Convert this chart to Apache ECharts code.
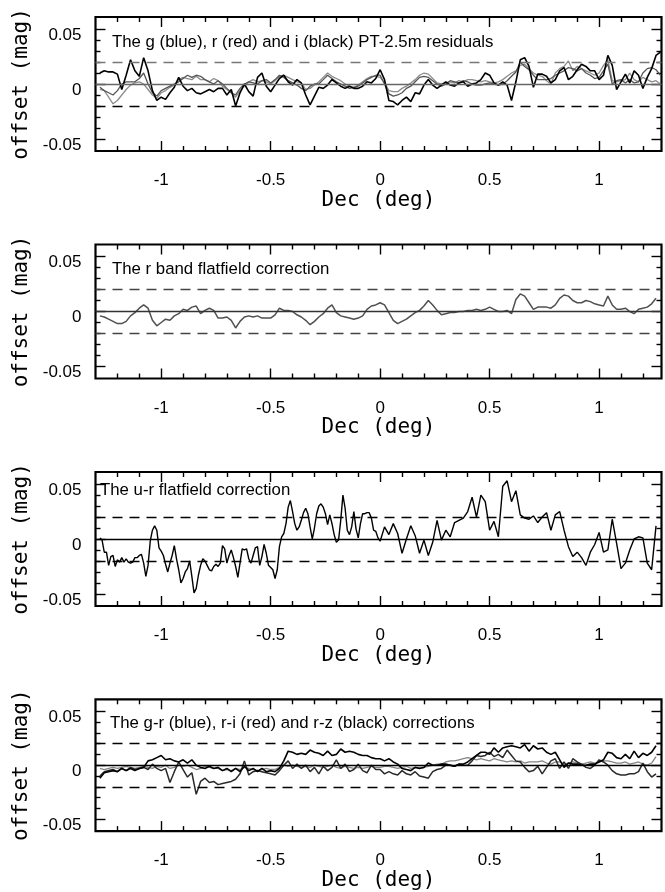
<!DOCTYPE html>
<html><head><meta charset="utf-8">
<script src="https://cdn.jsdelivr.net/npm/echarts@6/dist/echarts.min.js"></script>
<style>html,body{margin:0;padding:0;background:#fff}#c{width:665px;height:892px}</style>
</head><body><div id="c"></div>
<script>
// Dec (deg) sample positions (panels 1, 2, 4)
const DEC = [
-1.28,-1.26,-1.24,-1.22,-1.20,-1.18,-1.16,-1.14,-1.12,-1.10,
-1.08,-1.06,-1.04,-1.02,-1.00,-0.98,-0.96,-0.94,-0.92,-0.90,
-0.88,-0.86,-0.84,-0.82,-0.80,-0.78,-0.76,-0.74,-0.72,-0.70,
-0.68,-0.66,-0.64,-0.62,-0.60,-0.58,-0.56,-0.54,-0.52,-0.50,
-0.48,-0.46,-0.44,-0.42,-0.40,-0.38,-0.36,-0.34,-0.32,-0.30,
-0.28,-0.26,-0.24,-0.22,-0.20,-0.18,-0.16,-0.14,-0.12,-0.10,
-0.08,-0.06,-0.04,-0.02,0.00,0.02,0.04,0.06,0.08,0.10,
0.12,0.14,0.16,0.18,0.20,0.22,0.24,0.26,0.28,0.30,
0.32,0.34,0.36,0.38,0.40,0.42,0.44,0.46,0.48,0.50,
0.52,0.54,0.56,0.58,0.60,0.62,0.64,0.66,0.68,0.70,
0.72,0.74,0.76,0.78,0.80,0.82,0.84,0.86,0.88,0.90,
0.92,0.94,0.96,0.98,1.00,1.02,1.04,1.06,1.08,1.10,
1.12,1.14,1.16,1.18,1.20,1.22,1.24,1.26,1.28];

// Panel 1: PT-2.5m residuals
const P1_I = [
0.010,0.012,0.011,0.011,0.009,-0.005,0.008,0.022,0.012,0.007,
0.024,0.012,-0.006,-0.015,-0.012,-0.014,-0.008,-0.003,0.006,-0.002,
-0.006,-0.004,-0.008,-0.009,-0.007,-0.005,-0.007,-0.004,-0.004,-0.010,
-0.005,-0.020,-0.008,0.000,-0.007,-0.011,0.006,0.010,-0.002,-0.007,
-0.001,0.005,0.008,0.002,-0.001,0.004,0.001,-0.010,-0.019,-0.011,
-0.003,-0.004,-0.001,0.004,0.001,-0.002,-0.004,-0.002,-0.004,-0.004,
-0.002,0.002,0.001,0.005,0.013,0.004,-0.015,-0.016,-0.019,-0.015,
-0.012,-0.016,-0.008,-0.009,-0.001,0.004,-0.001,-0.004,-0.001,0.002,
-0.001,-0.002,0.001,0.002,-0.002,0.000,0.001,0.004,0.010,0.008,
0.001,-0.001,0.002,-0.001,-0.015,0.002,0.022,0.024,0.016,-0.003,
0.009,0.009,0.007,0.001,0.004,0.012,0.015,0.004,0.007,0.013,
0.018,0.016,0.012,0.012,0.004,0.008,0.026,0.017,-0.005,0.002,
0.009,0.001,0.012,0.008,-0.004,0.006,0.014,0.026,0.029];
const P1_G = [
-0.005,-0.006,-0.012,-0.018,-0.015,-0.010,-0.005,-0.001,0.001,0.002,
0.000,-0.005,-0.010,-0.013,-0.008,-0.006,-0.003,-0.001,0.004,0.006,
0.005,0.004,0.007,0.004,0.004,0.002,0.005,0.003,-0.002,-0.005,
-0.008,-0.012,-0.006,-0.002,0.002,0.004,0.002,0.003,0.002,0.000,
0.003,0.007,0.008,0.006,0.004,0.002,0.001,-0.005,-0.004,-0.001,
0.002,0.006,0.010,0.007,0.005,0.003,0.000,-0.002,-0.003,-0.001,
0.002,0.005,0.007,0.007,0.006,0.001,-0.006,-0.007,-0.007,-0.004,
-0.002,0.001,0.004,0.008,0.010,0.009,0.005,0.001,0.000,0.001,
0.002,0.001,0.003,0.002,0.004,0.004,0.003,0.002,0.003,0.002,
0.001,0.002,0.004,0.007,0.010,0.012,0.017,0.018,0.014,0.010,
0.008,0.007,0.003,0.000,0.010,0.014,0.016,0.021,0.012,0.016,
0.014,0.012,0.010,0.008,0.010,0.017,0.022,0.003,0.002,0.003,
0.004,0.010,0.004,0.002,0.006,0.004,0.002,0.003,0.000];
const P1_R = [
-0.003,-0.006,-0.008,-0.010,-0.006,0.000,0.002,0.002,0.002,0.005,
0.010,0.000,-0.008,-0.011,-0.006,-0.004,-0.002,0.000,0.002,0.005,
0.008,0.006,0.008,0.007,0.004,0.002,0.000,0.003,0.000,-0.004,
-0.008,-0.010,-0.004,0.000,0.002,0.001,0.000,0.003,0.004,0.001,
0.004,0.008,0.006,0.003,0.001,-0.001,-0.004,-0.006,-0.002,0.000,
0.000,0.004,0.008,0.005,0.002,0.000,-0.002,-0.004,-0.003,-0.002,
0.001,0.004,0.006,0.008,0.008,0.000,-0.009,-0.011,-0.010,-0.008,
-0.004,-0.002,0.002,0.006,0.007,0.006,0.003,0.000,-0.002,0.000,
0.003,0.002,0.001,0.003,0.002,0.000,-0.001,-0.001,0.000,0.001,
0.000,-0.001,0.000,0.003,0.007,0.011,0.020,0.016,0.013,0.008,
0.004,0.004,0.004,0.005,0.008,0.010,0.012,0.015,0.014,0.012,
0.014,0.010,0.008,0.005,0.006,0.012,0.018,0.000,0.003,0.004,
0.001,0.004,0.001,0.002,0.010,0.014,0.015,0.013,0.008];

// Panel 2: r band flatfield correction
const P2_R = [
-0.004,-0.005,-0.007,-0.009,-0.011,-0.011,-0.009,-0.004,-0.001,0.003,
0.006,0.003,-0.008,-0.013,-0.010,-0.007,-0.008,-0.004,-0.002,0.002,
0.001,0.004,0.005,-0.002,0.001,0.003,0.001,-0.006,-0.006,-0.005,
-0.008,-0.015,-0.009,-0.005,-0.004,-0.005,-0.004,-0.006,-0.006,-0.006,
-0.003,0.003,0.001,0.001,0.000,-0.003,-0.005,-0.008,-0.012,-0.009,
-0.005,-0.002,0.003,0.006,-0.001,-0.004,-0.005,-0.006,-0.007,-0.006,
-0.004,0.002,0.005,0.006,0.008,0.006,-0.001,-0.008,-0.011,-0.009,
-0.007,-0.004,-0.001,0.001,0.005,0.010,0.006,0.001,-0.003,-0.002,
-0.001,-0.001,0.000,0.000,0.001,0.001,0.002,0.001,0.002,0.004,
0.002,0.000,0.000,0.001,-0.002,0.011,0.016,0.014,0.008,0.002,
0.004,0.004,0.004,0.003,0.006,0.012,0.015,0.014,0.010,0.008,
0.008,0.010,0.009,0.007,0.006,0.005,0.014,0.006,0.002,0.002,
0.003,0.000,-0.002,0.002,0.003,0.004,0.007,0.012,null];

// Panel 3: u-r flatfield correction (own Dec samples)
const DEC3 = [
-1.28,-1.27,-1.26,-1.25,-1.24,-1.23,-1.22,-1.21,-1.20,-1.19,
-1.18,-1.17,-1.16,-1.15,-1.14,-1.13,-1.12,-1.11,-1.10,-1.09,
-1.08,-1.07,-1.06,-1.05,-1.04,-1.03,-1.02,-1.01,-1.00,-0.99,
-0.98,-0.97,-0.96,-0.95,-0.94,-0.93,-0.92,-0.91,-0.90,-0.89,
-0.88,-0.87,-0.86,-0.85,-0.84,-0.83,-0.82,-0.81,-0.80,-0.79,
-0.78,-0.77,-0.76,-0.75,-0.74,-0.73,-0.72,-0.71,-0.70,-0.69,
-0.68,-0.67,-0.66,-0.65,-0.64,-0.63,-0.62,-0.61,-0.60,-0.59,
-0.58,-0.57,-0.56,-0.55,-0.54,-0.53,-0.52,-0.51,-0.50,-0.49,
-0.48,-0.47,-0.46,-0.45,-0.44,-0.43,-0.42,-0.41,-0.40,-0.39,
-0.38,-0.37,-0.36,-0.35,-0.34,-0.33,-0.32,-0.31,-0.30,-0.29,
-0.28,-0.27,-0.26,-0.25,-0.24,-0.23,-0.22,-0.21,-0.20,-0.19,
-0.18,-0.17,-0.16,-0.15,-0.14,-0.13,-0.12,-0.11,-0.10,-0.09,
-0.08,-0.07,-0.06,-0.05,-0.04,-0.03,-0.02,-0.01,0.00,
0.02,0.04,0.06,0.08,0.10,0.12,0.14,0.16,0.18,0.20,
0.22,0.24,0.26,0.28,0.30,0.32,0.34,0.36,0.38,0.40,
0.42,0.44,0.46,0.48,0.50,0.52,0.54,0.56,0.58,0.60,
0.62,0.64,0.66,0.68,0.70,0.72,0.74,0.76,0.78,0.80,
0.82,0.84,0.86,0.88,0.90,0.92,0.94,0.96,0.98,1.00,
1.02,1.04,1.06,1.08,1.10,1.12,1.14,1.16,1.18,1.20,
1.22,1.24,1.26];
const P3_UR = [
0.001,-0.001,-0.012,-0.012,-0.024,-0.016,-0.015,-0.025,-0.019,-0.021,
-0.017,-0.021,-0.018,-0.021,-0.022,-0.021,-0.017,-0.017,-0.015,-0.014,
-0.022,-0.034,-0.024,-0.002,0.008,0.012,0.008,-0.008,-0.011,-0.015,
-0.023,-0.030,-0.022,-0.015,-0.006,-0.018,-0.028,-0.040,-0.036,-0.030,
-0.027,-0.020,-0.034,-0.049,-0.045,-0.033,-0.024,-0.018,-0.020,-0.024,
-0.028,-0.029,-0.025,-0.023,-0.025,-0.022,-0.006,-0.009,-0.022,-0.015,
-0.010,-0.017,-0.025,-0.035,-0.022,-0.009,-0.010,-0.009,-0.018,-0.022,
-0.015,-0.008,-0.007,-0.024,-0.016,-0.005,-0.013,-0.024,-0.026,-0.028,
-0.036,-0.028,-0.007,0.002,0.005,0.014,0.029,0.035,0.025,0.014,
0.008,0.011,0.017,0.024,0.028,0.023,0.011,0.000,0.010,0.023,
0.030,0.032,0.029,0.023,0.013,0.022,0.014,0.004,-0.003,-0.001,
0.017,0.040,0.028,0.008,0.004,0.011,0.025,0.009,0.001,0.014,
0.023,0.023,0.024,0.024,0.019,0.008,0.007,0.001,-0.002,
0.011,0.004,0.014,0.005,-0.013,0.000,0.012,0.003,-0.013,-0.001,
-0.015,-0.003,0.017,-0.001,0.008,0.002,0.015,0.017,0.019,0.025,
0.038,0.020,0.040,0.034,0.008,0.016,0.002,0.048,0.053,0.034,
0.044,0.022,0.019,0.018,0.021,0.015,0.020,0.024,0.008,0.022,
0.025,0.008,-0.007,-0.016,-0.012,-0.017,-0.024,-0.012,-0.005,0.006,
-0.012,-0.010,0.018,-0.004,-0.027,-0.022,-0.010,0.000,0.002,0.001,
-0.022,-0.028,0.012];

// Panel 4: colour corrections
const P4_RZ = [
-0.012,-0.007,-0.006,-0.005,-0.006,-0.003,-0.005,-0.003,-0.005,-0.003,
-0.002,0.004,0.005,0.007,0.009,0.005,0.006,0.004,0.003,0.005,
0.002,0.005,0.000,-0.002,-0.003,-0.001,-0.003,-0.002,-0.005,-0.003,
-0.006,-0.003,-0.006,-0.001,-0.005,-0.003,-0.006,-0.003,-0.006,-0.005,
-0.006,-0.003,0.004,0.013,0.012,0.010,0.011,0.010,0.014,0.012,
0.011,0.009,0.013,0.009,0.010,0.015,0.012,0.013,0.012,0.010,
0.009,0.009,0.007,0.006,0.006,0.004,0.006,0.003,0.001,-0.003,
-0.004,-0.005,-0.002,-0.003,-0.002,0.002,0.000,0.000,0.001,0.001,
0.000,-0.001,0.001,0.001,0.003,0.006,0.009,0.012,0.012,0.010,
0.016,0.012,0.016,0.017,0.018,0.017,0.016,0.019,0.013,0.018,
0.015,0.016,0.012,0.010,0.012,0.005,-0.002,0.002,0.001,0.001,
0.000,0.000,0.001,0.001,0.003,0.005,0.012,0.011,0.007,0.006,
0.010,0.006,0.013,0.007,0.011,0.009,0.012,0.018,null];
const P4_RI = [
-0.010,-0.006,-0.005,-0.004,-0.006,-0.003,-0.005,-0.002,-0.004,-0.003,
-0.002,-0.004,0.001,-0.003,-0.005,-0.003,-0.016,-0.006,0.003,-0.004,
-0.011,-0.007,-0.027,-0.015,-0.012,-0.016,-0.015,-0.018,-0.017,-0.016,
-0.015,-0.013,-0.008,0.004,-0.009,-0.006,-0.005,-0.006,-0.007,-0.008,
-0.009,-0.005,0.000,0.004,-0.003,0.001,-0.003,0.000,-0.006,-0.002,
-0.008,-0.001,-0.005,-0.002,0.005,-0.003,0.001,-0.006,-0.004,0.001,
-0.005,-0.007,0.000,-0.004,-0.004,-0.008,-0.006,-0.008,-0.009,-0.005,
-0.008,-0.009,-0.006,-0.010,-0.011,-0.012,-0.006,-0.004,-0.003,0.000,
0.000,-0.001,0.001,0.000,0.000,0.004,0.009,0.008,0.009,0.012,
0.008,0.010,0.007,0.014,0.009,0.004,0.003,-0.002,-0.006,-0.005,
-0.001,-0.008,-0.002,0.004,0.006,-0.003,0.003,-0.003,0.006,0.003,
0.001,-0.002,-0.003,0.000,0.005,0.003,0.000,-0.005,-0.008,-0.009,
-0.009,-0.008,-0.008,-0.006,0.002,-0.006,-0.011,-0.008,null];
const P4_GR = [
-0.003,-0.004,-0.003,-0.002,-0.003,-0.002,-0.001,-0.002,-0.003,-0.002,
-0.001,-0.002,-0.003,-0.001,-0.002,0.000,-0.003,-0.002,0.000,-0.001,
0.000,-0.002,-0.004,-0.003,-0.001,-0.002,-0.003,-0.003,-0.005,-0.004,
-0.005,-0.003,-0.004,-0.002,-0.003,-0.004,-0.005,-0.004,-0.003,-0.004,
-0.004,-0.002,0.000,-0.001,0.000,-0.001,-0.002,-0.001,-0.002,0.000,
-0.001,-0.002,-0.001,0.000,-0.002,-0.003,-0.001,-0.002,-0.003,-0.002,
-0.003,-0.002,-0.001,-0.002,-0.002,-0.001,-0.001,-0.002,-0.003,-0.002,
-0.001,-0.003,-0.002,-0.002,-0.002,-0.001,0.000,0.001,0.001,0.003,
0.004,0.004,0.005,0.006,0.007,0.006,0.005,0.006,0.005,0.004,
0.006,0.005,0.004,0.003,0.004,0.003,0.004,0.002,0.003,0.003,
0.003,0.004,0.002,0.001,0.003,0.003,0.001,0.002,0.003,0.002,
0.001,0.002,0.003,0.002,0.003,0.004,0.004,0.003,0.002,0.002,
0.003,0.001,0.002,0.003,0.001,0.000,0.002,0.008,null];

const REF_LEVELS = [0.02, 0, -0.02];
const X_MAJOR = [-1, -0.5, 0, 0.5, 1];
const X_MINOR = [-1.2,-1.1,-0.9,-0.8,-0.7,-0.6,-0.4,-0.3,-0.2,-0.1,0.1,0.2,0.3,0.4,0.6,0.7,0.8,0.9,1.1,1.2];
const Y_MAJOR = [-0.05, 0, 0.05];
const Y_MINOR = [-0.04,-0.03,-0.02,-0.01,0.01,0.02,0.03,0.04];
const TITLES = [
  'The g (blue), r (red) and i (black) PT-2.5m residuals',
  'The r band flatfield correction',
  'The u-r flatfield correction',
  'The g-r (blue), r-i (red) and r-z (black) corrections'
];
const X_NAME = 'Dec (deg)';
const Y_NAME = 'offset (mag)';

const PANEL_TOP = [17, 244.5, 472, 699.3];
const TITLE_LEFT = [112, 112, 100, 110];
const TITLE_TOP = [34, 261, 482, 715];
const GL = 95.5, GW = 566, GH = 134;
const SANS = 'Liberation Sans';
const MONO = 'DejaVu Sans Mono';

const grid = [], xAxis = [], yAxis = [], series = [], title = [];
const tickStyle = {color:'#000', width:1.4};
const noLine = {show:false, onZero:false};

PANEL_TOP.forEach((t, i) => {
  grid.push({left:GL, top:t, width:GW, height:GH, show:true, borderColor:'#000', borderWidth:2.2, backgroundColor:'rgba(0,0,0,0)'});
  const xb = {gridIndex:i, type:'value', min:-1.3, max:1.285, axisLine:noLine, splitLine:{show:false}};
  xAxis.push(Object.assign({}, xb, {position:'bottom',
    axisTick:{show:true, inside:true, length:10, customValues:X_MAJOR, lineStyle:tickStyle},
    axisLabel:{show:true, customValues:X_MAJOR, formatter:v=>String(v), margin:21, fontSize:17, fontFamily:SANS, color:'#000'},
    name:X_NAME, nameLocation:'middle', nameGap:37, nameTextStyle:{fontFamily:MONO, fontSize:21, color:'#000'}}));
  xAxis.push(Object.assign({}, xb, {position:'bottom',
    axisTick:{show:true, inside:true, length:5, customValues:X_MINOR, lineStyle:tickStyle}, axisLabel:{show:false}}));
  xAxis.push(Object.assign({}, xb, {position:'top',
    axisTick:{show:true, inside:true, length:10, customValues:X_MAJOR, lineStyle:tickStyle}, axisLabel:{show:false}}));
  xAxis.push(Object.assign({}, xb, {position:'top',
    axisTick:{show:true, inside:true, length:5, customValues:X_MINOR, lineStyle:tickStyle}, axisLabel:{show:false}}));

  const yb = {gridIndex:i, type:'value', min:-0.061, max:0.061, axisLine:noLine, splitLine:{show:false}};
  yAxis.push(Object.assign({}, yb, {position:'left',
    axisTick:{show:true, inside:true, length:10, customValues:Y_MAJOR, lineStyle:tickStyle},
    axisLabel:{show:true, customValues:Y_MAJOR, formatter:v=>String(v), margin:14, fontSize:17, fontFamily:SANS, color:'#000', verticalAlign:'top', lineHeight:12},
    name:Y_NAME, nameLocation:'middle', nameRotate:90, nameGap:63, nameTextStyle:{fontFamily:MONO, fontSize:21, color:'#000'}}));
  yAxis.push(Object.assign({}, yb, {position:'left',
    axisTick:{show:true, inside:true, length:5, customValues:Y_MINOR, lineStyle:tickStyle}, axisLabel:{show:false}}));
  yAxis.push(Object.assign({}, yb, {position:'right',
    axisTick:{show:true, inside:true, length:10, customValues:Y_MAJOR, lineStyle:tickStyle}, axisLabel:{show:false}}));
  yAxis.push(Object.assign({}, yb, {position:'right',
    axisTick:{show:true, inside:true, length:5, customValues:Y_MINOR, lineStyle:tickStyle}, axisLabel:{show:false}}));

  title.push({text:TITLES[i], left:TITLE_LEFT[i], top:TITLE_TOP[i], padding:0,
    textStyle:{fontFamily:SANS, fontSize:16.8, fontWeight:'normal', color:'#000'}});
});

function refLines(colors, width) {
  return {symbol:'none', silent:true, label:{show:false}, animation:false,
    data: REF_LEVELS.map((v, k) => ({yAxis:v, lineStyle:{color:colors[k], width:width, type: v === 0 ? 'solid' : [10,7]}}))};
}
function line(i, xs, vals, color, width, mark) {
  const s = {type:'line', xAxisIndex:i*4, yAxisIndex:i*4, symbol:'none', smooth:false, connectNulls:false,
    lineStyle:{color:color, width:width}, data: xs.map((x, k) => [x, vals[k]]), z:3};
  if (mark) s.markLine = mark;
  return s;
}

series.push(line(0, DEC, P1_G, '#8c8c8c', 1.3, refLines(['#777','#666','#000'], 1.4)));
series.push(line(0, DEC, P1_R, '#555', 1.3));
series.push(line(0, DEC, P1_I, '#000', 1.6));
series.push(line(1, DEC, P2_R, '#505050', 1.5, refLines(['#444','#333','#444'], 1.4)));
series.push(line(2, DEC3, P3_UR, '#000', 1.4, refLines(['#000','#000','#000'], 1.3)));
series.push(line(3, DEC, P4_GR, '#858585', 1.3, refLines(['#000','#000','#000'], 1.3)));
series.push(line(3, DEC, P4_RI, '#2a2a2a', 1.5));
series.push(line(3, DEC, P4_RZ, '#000', 1.6));

const chart = echarts.init(document.getElementById('c'), null, {renderer:'canvas'});
chart.setOption({animation:false, backgroundColor:'#fff', title, grid, xAxis, yAxis, series});
</script></body></html>
